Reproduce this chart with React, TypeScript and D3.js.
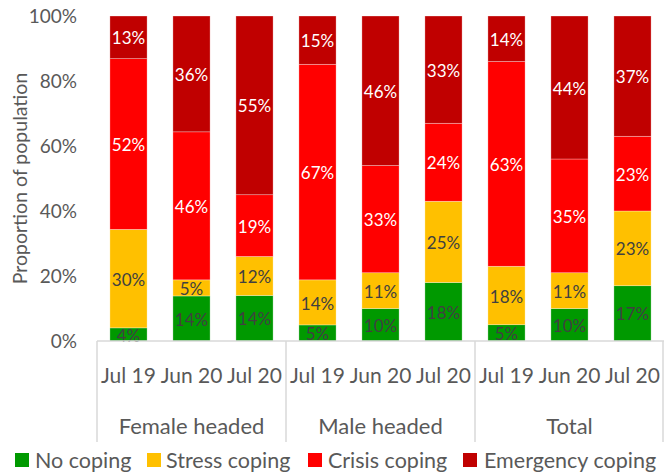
import * as d3 from "d3";

const groups = ["Female headed", "Male headed", "Total"];
const periods = ["Jul 19", "Jun 20", "Jul 20"];
const seriesNames = ["No coping", "Stress coping", "Crisis coping", "Emergency coping"];
const seriesColors = ["#009900", "#ffc000", "#ff0000", "#c00000"];
const labelColors = ["#404040", "#404040", "#ffffff", "#ffffff"];

// one value per bar, in order Female(Jul19, Jun20, Jul20), Male(...), Total(...)
const noCoping = [4, 14, 14, 5, 10, 18, 5, 10, 17];
const stressCoping = [30, 5, 12, 14, 11, 25, 18, 11, 23];
const crisisCoping = [52, 46, 19, 67, 33, 24, 63, 35, 23];
const emergencyCoping = [13, 36, 55, 15, 46, 33, 14, 44, 37];

const yTicks = [0, 0.2, 0.4, 0.6, 0.8, 1];

const W = 664;
const H = 475;
const margin = { top: 16, left: 97, right: 0 };
const axisY = 341;
const font = "Lato, 'Open Sans', sans-serif";
const textGray = "#595959";
const lineGray = "#d9d9d9";

export default function App() {
  const keys = groups.flatMap((g) => periods.map((p) => `${g}|${p}`));
  const rows = keys.map((k, i) => ({
    key: k,
    period: k.split("|")[1],
    "No coping": noCoping[i],
    "Stress coping": stressCoping[i],
    "Crisis coping": crisisCoping[i],
    "Emergency coping": emergencyCoping[i],
  }));

  // 100% stacked, like the excel original
  const stacked = d3.stack<any>().keys(seriesNames).offset(d3.stackOffsetExpand)(rows);

  const x = d3
    .scaleBand()
    .domain(keys)
    .range([margin.left, W - margin.right])
    .paddingInner(0.41)
    .paddingOuter(0.205);
  const y = d3.scaleLinear().domain([0, 1]).range([axisY, margin.top]);

  const step = x.step();
  const groupEdges = d3.range(groups.length + 1).map((i) => margin.left + i * 3 * step);

  const legendItems = [
    { sx: 15, tx: 35 },
    { sx: 147, tx: 166 },
    { sx: 308, tx: 328 },
    { sx: 463, tx: 484 },
  ];

  return (
    <svg
      width={W}
      height={H}
      style={{ position: "absolute", left: 0, top: 0, background: "#fff" }}
      fontFamily={font}
    >
      {/* y axis ticks */}
      {yTicks.map((t) => (
        <text
          key={t}
          x={77}
          y={y(t)}
          dy="0.36em"
          textAnchor="end"
          fontSize={19}
          fill={textGray}
        >
          {d3.format(".0%")(t)}
        </text>
      ))}
      <text
        transform={`translate(27,${(y(0) + y(1)) / 2}) rotate(-90)`}
        textAnchor="middle"
        fontSize={19.5}
        fill={textGray}
      >
        Proportion of population
      </text>

      {/* bars */}
      {stacked.map((s, si) =>
        s.map((d, i) => (
          <rect
            key={`${si}-${i}`}
            x={x(keys[i])}
            y={y(d[1])}
            width={x.bandwidth()}
            height={y(d[0]) - y(d[1])}
            fill={seriesColors[si]}
            stroke="#ffffff"
            strokeOpacity={0.5}
            strokeWidth={0.6}
          />
        ))
      )}

      {/* data labels */}
      {stacked.map((s, si) =>
        s.map((d, i) => (
          <text
            key={`l${si}-${i}`}
            x={(x(keys[i]) as number) + x.bandwidth() / 2}
            y={(y(d[0]) + y(d[1])) / 2 + 1}
            dy="0.36em"
            textAnchor="middle"
            fontSize={17}
            fill={labelColors[si]}
          >
            {(d.data as any)[seriesNames[si]]}%
          </text>
        ))
      )}

      {/* x axis */}
      <line x1={margin.left} x2={W} y1={axisY} y2={axisY} stroke={lineGray} strokeWidth={1.5} />
      {groupEdges.map((ex, i) => (
        <line
          key={i}
          x1={i === groups.length ? ex - 1 : ex}
          x2={i === groups.length ? ex - 1 : ex}
          y1={axisY}
          y2={442}
          stroke={lineGray}
          strokeWidth={1.5}
        />
      ))}
      {rows.map((r) => (
        <text
          key={r.key}
          x={(x(r.key) as number) + x.bandwidth() / 2}
          y={383}
          textAnchor="middle"
          fontSize={21}
          fill={textGray}
        >
          {r.period}
        </text>
      ))}
      {groups.map((g, i) => (
        <text
          key={g}
          x={(groupEdges[i] + groupEdges[i + 1]) / 2}
          y={434}
          textAnchor="middle"
          fontSize={22}
          fill={textGray}
        >
          {g}
        </text>
      ))}

      {/* legend */}
      {seriesNames.map((n, i) => (
        <g key={n}>
          <rect x={legendItems[i].sx} y={453} width={14} height={14} fill={seriesColors[i]} />
          <text x={legendItems[i].tx} y={468} fontSize={21.5} fill={textGray}>
            {n}
          </text>
        </g>
      ))}
    </svg>
  );
}
